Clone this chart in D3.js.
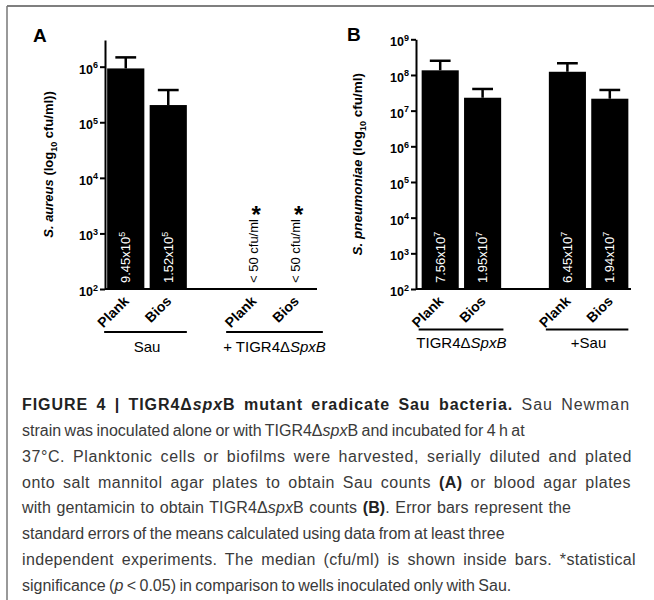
<!DOCTYPE html>
<html><head><meta charset="utf-8">
<script src="https://cdn.jsdelivr.net/npm/d3@7/dist/d3.min.js"></script>
<style>
html,body{margin:0;padding:0;background:#fff;}
svg{display:block;font-family:"Liberation Sans",Arial,Helvetica,sans-serif;}
</style></head>
<body>
<svg id="fig" width="654" height="600"></svg>
<script>
// ---------------- DATA ----------------
const categories = ["Plank", "Bios", "Plank", "Bios"];
const bandKeys = ["g1-Plank", "g1-Bios", "gap", "g2-Plank", "g2-Bios"];
const barKeys = ["g1-Plank", "g1-Bios", "g2-Plank", "g2-Bios"];

// Panel A: S. aureus counts
const sauTicks = [1e2, 1e3, 1e4, 1e5, 1e6];
const sauMeans = [9.3e5, 2.04e5, null, null];
const sauErrTop = [1.47e6, 3.8e5, null, null];
const sauMedianMant = ["9.45", "1.52", null, null];
const sauMedianExp = ["5", "5", null, null];
const sauNotes = [null, null, "< 50 cfu/ml", "< 50 cfu/ml"];
const sauStars = [false, false, true, true];
const sauGroups = [["Sau", ""], ["+ TIGR4Δ", "SpxB"]];

// Panel B: S. pneumoniae counts
const spnTicks = [1e2, 1e3, 1e4, 1e5, 1e6, 1e7, 1e8, 1e9];
const spnMeans = [1.35e8, 2.3e7, 1.23e8, 2.16e7];
const spnErrTop = [2.5e8, 4.05e7, 2.13e8, 3.8e7];
const spnMedianMant = ["7.56", "1.95", "6.45", "1.94"];
const spnMedianExp = ["7", "7", "7", "7"];
const spnNotes = [null, null, null, null];
const spnStars = [false, false, false, false];
const spnGroups = [["TIGR4Δ", "SpxB"], ["+Sau", ""]];

// Caption lines: segments [text, style] (b = bold, i = italic, bi = bold italic, r = regular)
const captionLines = [
  [["FIGURE 4 | TIGR4Δ", "b"], ["spx", "bi"], ["B mutant eradicate Sau bacteria.", "b"], [" Sau Newman", "r"]],
  [["strain was inoculated alone or with TIGR4Δ", "r"], ["spx", "i"], ["B and incubated for 4 h at", "r"]],
  [["37°C. Planktonic cells or biofilms were harvested, serially diluted and plated", "r"]],
  [["onto salt mannitol agar plates to obtain Sau counts ", "r"], ["(A)", "b"], [" or blood agar plates", "r"]],
  [["with gentamicin to obtain TIGR4Δ", "r"], ["spx", "i"], ["B counts ", "r"], ["(B)", "b"], [". Error bars represent the", "r"]],
  [["standard errors of the means calculated using data from at least three", "r"]],
  [["independent experiments. The median (cfu/ml) is shown inside bars. *statistical", "r"]],
  [["significance (", "r"], ["p", "i"], [" < 0.05) in comparison to wells inoculated only with Sau.", "r"]]
];
const captionLineEnds = [630, 521, 632, 631, 571, 483, 636, 438];

// ---------------- DRAW ----------------
const svg = d3.select("#fig");

// frame lines
svg.append("line").attr("x1", 7).attr("x2", 654).attr("y1", 6).attr("y2", 6)
  .attr("stroke", "#555").attr("stroke-width", 1.5);
svg.append("line").attr("x1", 7).attr("x2", 7).attr("y1", 6).attr("y2", 600)
  .attr("stroke", "#777").attr("stroke-width", 1.5);

function drawPanel(cfg) {
  const g = svg.append("g");
  const y = d3.scaleLog().domain(cfg.yDomain).range([cfg.bottom, cfg.top]);
  const x = d3.scaleBand().domain(bandKeys).range(cfg.bandRange)
    .paddingInner(0.125).paddingOuter(0.0625);
  const bw = x.bandwidth();
  const base = cfg.yDomain[0];

  const data = barKeys.map((k, i) => ({
    key: k, cat: categories[i], mean: cfg.means[i], err: cfg.errTop[i],
    mant: cfg.mant[i], exp: cfg.exp[i], note: cfg.notes[i], star: cfg.stars[i]
  }));

  // bars
  g.selectAll("rect.bar").data(data.filter(d => d.mean != null)).join("rect")
    .attr("class", "bar")
    .attr("x", d => x(d.key)).attr("width", bw)
    .attr("y", d => y(d.mean)).attr("height", d => y(base) - y(d.mean))
    .attr("fill", "#000");

  // error bars
  const eb = data.filter(d => d.err != null);
  g.selectAll("line.ev").data(eb).join("line").attr("class", "ev")
    .attr("x1", d => x(d.key) + bw / 2).attr("x2", d => x(d.key) + bw / 2)
    .attr("y1", d => y(d.mean)).attr("y2", d => y(d.err))
    .attr("stroke", "#000").attr("stroke-width", 2.5);
  g.selectAll("line.ec").data(eb).join("line").attr("class", "ec")
    .attr("x1", d => x(d.key) + bw * 0.22).attr("x2", d => x(d.key) + bw * 0.78)
    .attr("y1", d => y(d.err)).attr("y2", d => y(d.err))
    .attr("stroke", "#000").attr("stroke-width", 2.5);

  // median labels inside bars
  data.filter(d => d.mant != null).forEach(d => {
    const cx = x(d.key) + bw / 2 + 4.5, cy = y(base) - 6;
    const t = g.append("text").attr("transform", `translate(${cx},${cy}) rotate(-90)`)
      .attr("fill", "#fff").attr("font-size", 13);
    t.append("tspan").text(d.mant + "x10");
    t.append("tspan").attr("font-size", 9).attr("dy", -5).text(d.exp);
  });
  // notes for values below detection
  data.filter(d => d.note != null).forEach(d => {
    const cx = x(d.key) + bw / 2 + 4.5, cy = y(base) - 6;
    g.append("text").attr("transform", `translate(${cx},${cy}) rotate(-90)`)
      .attr("fill", "#000").attr("font-size", 13).text(d.note);
  });
  data.filter(d => d.star).forEach(d => {
    g.append("text").attr("x", x(d.key) + bw / 2 + 3).attr("y", y(base) - 66)
      .attr("text-anchor", "middle").attr("font-size", 24).attr("font-weight", "bold")
      .text("*");
  });

  // y axis
  const ax = g.append("g").attr("transform", `translate(${cfg.left},0)`)
    .call(d3.axisLeft(y).tickValues(cfg.ticks).tickSize(5).tickSizeOuter(0)
      .tickPadding(2).tickFormat(() => ""));
  ax.select(".domain").attr("stroke-width", 2);
  ax.selectAll(".tick line").attr("stroke-width", 2);
  ax.selectAll(".tick text").each(function (v) {
    const t = d3.select(this).attr("dy", null).attr("font-size", 12.5)
      .attr("font-weight", "bold").attr("font-family", "Liberation Sans, Arial, sans-serif")
      .attr("fill", "#000");
    t.append("tspan").attr("dy", 6.5).text("10");
    t.append("tspan").attr("font-size", 9).attr("dy", -5.5).text(Math.round(Math.log10(v)));
  });

  // x axis line
  g.append("line").attr("x1", cfg.left).attr("x2", x.range()[1])
    .attr("y1", y(base)).attr("y2", y(base))
    .attr("stroke", "#000").attr("stroke-width", 2);

  // category labels
  data.forEach(d => {
    g.append("text")
      .attr("transform", `translate(${x(d.key) + bw / 2 + 4},${y(base) + 13}) rotate(-45)`)
      .attr("text-anchor", "end").attr("font-size", 14).attr("font-weight", "bold")
      .text(d.cat);
  });

  // group lines + labels
  cfg.groups.forEach((grp, gi) => {
    const k0 = barKeys[gi * 2], k1 = barKeys[gi * 2 + 1];
    const cx = (x(k0) + x(k1) + bw) / 2;
    const t = g.append("text").attr("x", cx).attr("y", cfg.groupLabelY)
      .attr("text-anchor", "middle").attr("font-size", 15);
    t.append("tspan").text(grp[0]);
    if (grp[1]) t.append("tspan").attr("font-style", "italic").text(grp[1]);
    const bb = t.node().getBBox();
    const x1 = Math.min(x(k0) - 3, bb.x + 3);
    const x2 = Math.max(x(k1) + bw, bb.x + bb.width - 3);
    g.append("line").attr("x1", x1).attr("x2", x2)
      .attr("y1", cfg.groupLineY).attr("y2", cfg.groupLineY)
      .attr("stroke", "#000").attr("stroke-width", 2);
  });

  // y title
  const tt = g.append("text")
    .attr("transform", `translate(${cfg.titleX},${(cfg.top + cfg.bottom) / 2}) rotate(-90)`)
    .attr("text-anchor", "middle").attr("font-size", cfg.titleSize).attr("font-weight", "bold");
  tt.append("tspan").attr("font-style", "italic").text(cfg.species);
  tt.append("tspan").text(" (log");
  tt.append("tspan").attr("font-size", 9).attr("dy", 4).text("10");
  tt.append("tspan").attr("dy", -4).text(cfg.titleTail);

  // panel letter
  g.append("text").attr("x", cfg.letterX).attr("y", cfg.letterY)
    .attr("font-size", 19).attr("font-weight", "bold").text(cfg.letter);
}

drawPanel({
  left: 105, top: 40, bottom: 289, bandRange: [104.5, 317],
  yDomain: [1e2, Math.pow(10, 6.48)], ticks: sauTicks,
  means: sauMeans, errTop: sauErrTop, mant: sauMedianMant, exp: sauMedianExp,
  notes: sauNotes, stars: sauStars, groups: sauGroups,
  groupLineY: 332, groupLabelY: 351.5,
  titleX: 53, titleSize: 13, species: "S. aureus", titleTail: " cfu/ml))",
  letter: "A", letterX: 33, letterY: 42
});
drawPanel({
  left: 416, top: 39.3, bottom: 289, bandRange: [419, 631],
  yDomain: [1e2, 1e9], ticks: spnTicks,
  means: spnMeans, errTop: spnErrTop, mant: spnMedianMant, exp: spnMedianExp,
  notes: spnNotes, stars: spnStars, groups: spnGroups,
  groupLineY: 329.5, groupLabelY: 348,
  titleX: 362, titleSize: 13.5, species: "S. pneumoniae", titleTail: " cfu/ml)",
  letter: "B", letterX: 347, letterY: 41
});

// caption: stretch wide lines with spacing; short lines only get a slight word-spacing squeeze
const cap = svg.append("g");
captionLines.forEach((segs, i) => {
  const t = cap.append("text").attr("x", 22).attr("y", 410 + i * 25.85)
    .attr("font-size", 16).attr("fill", "#3a3a3a");
  segs.forEach(([s, st]) => {
    const sp = t.append("tspan").text(s);
    if (st === "b" || st === "bi") sp.attr("font-weight", "bold").attr("fill", "#222");
    if (st === "i" || st === "bi") sp.attr("font-style", "italic");
  });
  const full = segs.map(s => s[0]).join("");
  const nSpaces = (full.match(/ /g) || []).length;
  const nChars = full.length;
  const target = captionLineEnds[i] - 22;
  const natural = t.node().getComputedTextLength();
  const delta = target - natural;
  if (delta >= 0) {
    const ws = Math.min(3, (delta * 0.5) / nSpaces);
    t.attr("word-spacing", ws).attr("letter-spacing", (delta - ws * nSpaces) / nChars);
  } else {
    t.attr("word-spacing", Math.max(-1, delta / nSpaces));
  }
});
</script>
</body></html>
